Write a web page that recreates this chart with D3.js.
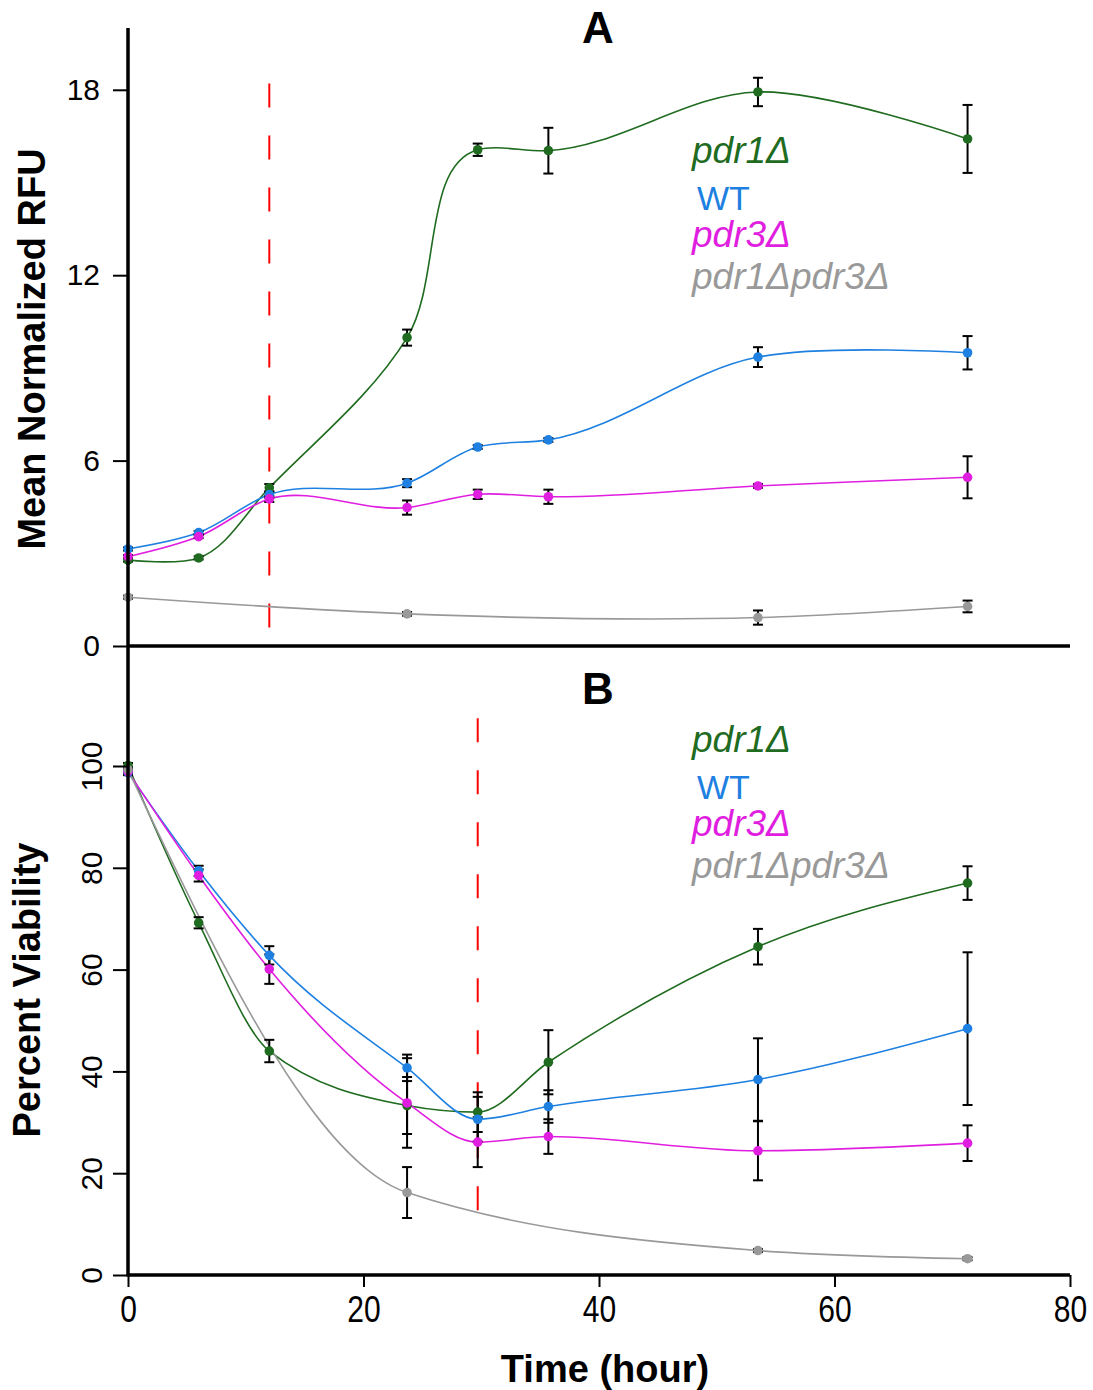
<!DOCTYPE html>
<html>
<head>
<meta charset="utf-8">
<script src="https://cdn.jsdelivr.net/npm/d3@7"></script>
<style>
  body { margin: 0; background: #fff; }
  svg text { font-family: "Liberation Sans", Arial, sans-serif; }
</style>
</head>
<body>
<script>
const width = 1093;
const height = 1390;

// time points (hour)
const times = [0, 6, 12, 23.7, 29.7, 35.7, 53.5, 71.3];
const timesDouble = [0, 23.7, 53.5, 71.3];

const strains = ['pdr1Δ', 'WT', 'pdr3Δ', 'pdr1Δpdr3Δ'];
const colors = ['#1f6b1f', '#1e80e0', '#e01ee0', '#999999'];
const italic = [true, false, true, true];

// panel A - mean normalized RFU
const rfuPdr1 = [2.78, 2.85, 5.12, 9.98, 16.06, 16.03, 17.93, 16.41];
const rfuPdr1Err = [0.05, 0.05, 0.12, 0.26, 0.2, 0.74, 0.46, 1.1];
const rfuWT = [3.14, 3.67, 4.9, 5.27, 6.44, 6.67, 9.35, 9.49];
const rfuWTErr = [0.05, 0.05, 0.1, 0.13, 0.06, 0.06, 0.32, 0.54];
const rfuPdr3 = [2.89, 3.54, 4.76, 4.48, 4.91, 4.83, 5.18, 5.46];
const rfuPdr3Err = [0.05, 0.05, 0.1, 0.23, 0.15, 0.23, 0.06, 0.68];
const rfuDouble = [1.58, 1.04, 0.92, 1.28];
const rfuDoubleErr = [0.05, 0.06, 0.23, 0.19];

// panel B - percent viability
const viaPdr1 = [100.1, 69.2, 44.0, 33.3, 32.0, 41.8, 64.5, 77.0];
const viaPdr1Err = [0.5, 1.1, 2.2, 5.6, 3.9, 6.3, 3.5, 3.3];
const viaWT = [98.7, 79.4, 62.8, 40.7, 30.6, 33.1, 38.4, 48.4];
const viaWTErr = [0.5, 1.0, 1.8, 2.6, 4.4, 3.2, 8.1, 15];
const viaPdr3 = [98.9, 78.5, 60.1, 33.8, 26.1, 27.2, 24.4, 25.9];
const viaPdr3Err = [0.5, 1.2, 2.9, 8.8, 4.9, 3.4, 5.8, 3.5];
const viaDouble = [99.3, 16.2, 4.8, 3.2];
const viaDoubleErr = [0.5, 5.0, 0.3, 0.3];

// ticks
const xTicks = [0, 20, 40, 60, 80];
const yTicksA = [0, 6, 12, 18];
const yTicksB = [0, 20, 40, 60, 80, 100];

// red dashed marks: [time, from, to]
const dashA = [12, 0.3, 18.2];
const dashB = [29.7, 11.2, 109.4];

// scales
let x = d3.scaleLinear().domain([0, 80]).range([128, 1070]);
let yA = d3.scaleLinear().domain([0, 20]).range([646, 28]);
let yB = d3.scaleLinear().domain([0, 100]).range([1275, 766]);

const svg = d3.select('body')
  .append('svg')
  .attr('width', width)
  .attr('height', height);

const toPoints = (ts, vs, es) => ts.map((t, i) => ({ t: t, v: vs[i], e: es[i] }));

const panels = [
  {
    y: yA, curve: d3.curveCatmullRom.alpha(1), dash: dashA, title: 'A', titleY: 43,
    legendY: [163, 210, 247, 289],
    series: [
      toPoints(times, rfuPdr1, rfuPdr1Err),
      toPoints(times, rfuWT, rfuWTErr),
      toPoints(times, rfuPdr3, rfuPdr3Err),
      toPoints(timesDouble, rfuDouble, rfuDoubleErr)
    ]
  },
  {
    y: yB, curve: d3.curveMonotoneX, dash: dashB, title: 'B', titleY: 704,
    legendY: [752, 799, 836, 878],
    series: [
      toPoints(times, viaPdr1, viaPdr1Err),
      toPoints(times, viaWT, viaWTErr),
      toPoints(times, viaPdr3, viaPdr3Err),
      toPoints(timesDouble, viaDouble, viaDoubleErr)
    ]
  }
];

panels.forEach(p => {
  const y = p.y;
  const g = svg.append('g');

  // red dashed line
  g.append('line')
    .attr('x1', x(p.dash[0])).attr('x2', x(p.dash[0]))
    .attr('y1', y(p.dash[2])).attr('y2', y(p.dash[1]))
    .attr('stroke', '#ff0000')
    .attr('stroke-width', 2)
    .attr('stroke-dasharray', '24,28');

  const line = d3.line().x(d => x(d.t)).y(d => y(d.v)).curve(p.curve);

  // lines
  g.selectAll('path.series')
    .data(p.series)
    .enter().append('path')
    .attr('class', 'series')
    .attr('d', d => line(d))
    .attr('fill', 'none')
    .attr('stroke', (d, i) => colors[i])
    .attr('stroke-width', 1.6);

  // error bars
  p.series.forEach(s => {
    const eb = g.append('g').attr('stroke', '#000').attr('stroke-width', 2);
    s.forEach(d => {
      eb.append('line')
        .attr('x1', x(d.t)).attr('x2', x(d.t))
        .attr('y1', y(d.v - d.e)).attr('y2', y(d.v + d.e));
      [d.v - d.e, d.v + d.e].forEach(v => {
        eb.append('line')
          .attr('x1', x(d.t) - 5).attr('x2', x(d.t) + 5)
          .attr('y1', y(v)).attr('y2', y(v));
      });
    });
  });

  // markers
  p.series.forEach((s, i) => {
    g.selectAll(null)
      .data(s)
      .enter().append('circle')
      .attr('cx', d => x(d.t))
      .attr('cy', d => y(d.v))
      .attr('r', 4.8)
      .attr('fill', colors[i]);
  });

  // panel title
  g.append('text')
    .attr('x', 598).attr('y', p.titleY)
    .attr('text-anchor', 'middle')
    .attr('font-size', 44)
    .attr('font-weight', 'bold')
    .text(p.title);

  // legend
  strains.forEach((name, i) => {
    g.append('text')
      .attr('x', i === 1 ? 697 : 692)
      .attr('y', p.legendY[i])
      .attr('font-size', italic[i] ? 37 : 34)
      .attr('font-style', italic[i] ? 'italic' : 'normal')
      .attr('fill', colors[i])
      .text(name);
  });
});

// axes
const gyA = svg.append('g')
  .attr('transform', `translate(${x(0)},0)`)
  .call(d3.axisLeft(yA).tickValues(yTicksA).tickSize(15).tickPadding(13))
  .call(g => g.select('.domain').remove());
gyA.selectAll('.tick line').attr('stroke-width', 2);
gyA.selectAll('.tick text').attr('font-size', 30).attr('font-family', null).attr('fill', '#000');

const gyB = svg.append('g')
  .attr('transform', `translate(${x(0)},0)`)
  .call(d3.axisLeft(yB).tickValues(yTicksB).tickSize(15))
  .call(g => g.select('.domain').remove());
gyB.selectAll('.tick line').attr('stroke-width', 2);
gyB.selectAll('.tick text')
  .attr('font-size', 30).attr('font-family', null).attr('fill', '#000')
  .attr('x', 0).attr('dy', 0)
  .attr('text-anchor', 'middle')
  .attr('transform', 'translate(-26,0) rotate(-90)');

const gx = svg.append('g')
  .attr('transform', `translate(0,${yB(0)})`)
  .call(d3.axisBottom(x).tickValues(xTicks).tickSize(12))
  .call(g => g.select('.domain').remove());
gx.selectAll('.tick line').attr('stroke-width', 2);
gx.selectAll('.tick text')
  .attr('font-size', 30).attr('font-family', null).attr('fill', '#000')
  .attr('y', 0).attr('dy', 0)
  .attr('transform', 'translate(0,47) scale(1,1.25)');

// axis lines
svg.append('line')
  .attr('x1', x(0)).attr('x2', x(0))
  .attr('y1', yA(20)).attr('y2', yB(0) + 1.5)
  .attr('stroke', '#000').attr('stroke-width', 3.5);
[yA(0), yB(0)].forEach(yy => {
  svg.append('line')
    .attr('x1', x(0)).attr('x2', x(80))
    .attr('y1', yy).attr('y2', yy)
    .attr('stroke', '#000').attr('stroke-width', 3.5);
});

// axis titles
svg.append('text')
  .attr('transform', `translate(45,${(yA(0) + yA(20)) / 2 + 12}) rotate(-90)`)
  .attr('text-anchor', 'middle')
  .attr('font-size', 38)
  .attr('font-weight', 'bold')
  .text('Mean Normalized RFU');

svg.append('text')
  .attr('transform', `translate(40,990) rotate(-90)`)
  .attr('text-anchor', 'middle')
  .attr('font-size', 38)
  .attr('font-weight', 'bold')
  .text('Percent Viability');

svg.append('text')
  .attr('x', 605).attr('y', 1382)
  .attr('text-anchor', 'middle')
  .attr('font-size', 38)
  .attr('font-weight', 'bold')
  .text('Time (hour)');
</script>
</body>
</html>
